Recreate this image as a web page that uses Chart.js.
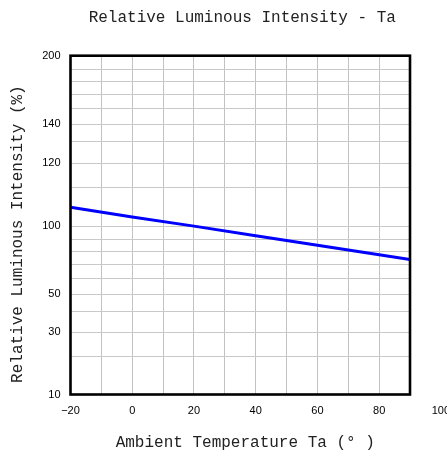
<!DOCTYPE html>
<html><head><meta charset="utf-8">
<script src="https://cdn.jsdelivr.net/npm/chart.js@4/dist/chart.umd.min.js"></script>
<style>html,body{margin:0;padding:0;background:#fff}#wrap{width:447px;height:458px;position:relative}</style>
</head><body><div id="wrap"><canvas id="c"></canvas></div>
<script>
// ---- data ----
const temperatures = [-20, 0, 20, 40, 60, 80, 90];
const intensity = [104.9, 102.4, 100.0, 92.5, 85.2, 77.7, 74.0];
const xGridValues = [-20, -10, 0, 10, 20, 30, 40, 50, 60, 70, 80, 90];
const xLabelValues = [-20, 0, 20, 40, 60, 80, 100];
const yGridValues = [10, 20, 30, 40, 50, 60, 70, 80, 90, 100, 110, 120, 130, 140, 152, 164, 176, 188, 200];
const yLabelValues = [10, 30, 50, 100, 120, 140, 200];
const chartTitle = 'Relative Luminous Intensity - Ta';
const xTitle = 'Ambient Temperature Ta (\u00b0 )';
const yTitle = 'Relative Luminous Intensity (%)';

// ---- axis geometry (relative height of each y grid line, bottom = 0, top = 1) ----
const yGridFractions = [0, .1110, .1831, .2460, .2962, .3426, .3839, .4211, .4587, .4970,
  .6102, .6822, .7460, .7983, .8447, .8860, .9232, .9598, 1];

function valueToFrac(v) {
  const g = yGridValues, f = yGridFractions;
  if (v <= g[0]) return f[0] + (v - g[0]) / (g[1] - g[0]) * (f[1] - f[0]);
  for (let i = 1; i < g.length; i++) {
    if (v <= g[i]) return f[i - 1] + (v - g[i - 1]) / (g[i] - g[i - 1]) * (f[i] - f[i - 1]);
  }
  const n = g.length - 1;
  return f[n] + (v - g[n]) / (g[n] - g[n - 1]) * (f[n] - f[n - 1]);
}
function fracToValue(d) {
  const g = yGridValues, f = yGridFractions;
  for (let i = 1; i < f.length; i++) {
    if (d <= f[i]) return g[i - 1] + (d - f[i - 1]) / (f[i] - f[i - 1]) * (g[i] - g[i - 1]);
  }
  return g[g.length - 1];
}

class SegmentScale extends Chart.LinearScale {
  static id = 'segment';
  static defaults = Chart.LinearScale.defaults;
  buildTicks() { return yGridValues.map(v => ({ value: v })); }
  getPixelForValue(v) { return this.getPixelForDecimal(valueToFrac(v)); }
  getValueForPixel(p) { return fracToValue(this.getDecimalForPixel(p)); }
}
Chart.register(SegmentScale);

const frame = {
  id: 'frame',
  afterDatasetsDraw(chart) {
    const { ctx, chartArea: a } = chart;
    ctx.save();
    ctx.strokeStyle = '#000';
    ctx.lineWidth = 2.6;
    ctx.strokeRect(a.left, a.top, a.right - a.left, a.bottom - a.top);
    ctx.restore();
  },
  afterDraw(chart) {
    const { ctx, chartArea: a } = chart;
    const cx = (a.left + a.right) / 2;
    ctx.save();
    ctx.fillStyle = '#222';
    ctx.font = '16px "Liberation Mono", monospace';
    ctx.textAlign = 'center';
    ctx.textBaseline = 'middle';
    ctx.fillText(chartTitle, cx + 2, a.top - 38);
    ctx.fillText(xTitle, cx + 5, a.bottom + 48);
    ctx.translate(18, (a.top + a.bottom) / 2 + 9);
    ctx.rotate(-Math.PI / 2);
    ctx.fillText(yTitle, 0, 0);
    ctx.restore();
  }
};

new Chart(document.getElementById('c'), {
  type: 'line',
  data: {
    datasets: [{
      data: temperatures.map((t, i) => ({ x: t, y: intensity[i] })),
      borderColor: '#0000ff',
      borderWidth: 3,
      pointRadius: 0,
      tension: 0,
      fill: false
    }]
  },
  options: {
    responsive: true,
    maintainAspectRatio: false,
    animation: false,
    layout: { padding: { left: 0, top: 55.7, right: 37, bottom: 0 } },
    plugins: { legend: { display: false }, title: { display: false }, tooltip: { enabled: false } },
    scales: {
      x: {
        type: 'linear',
        min: -20, max: 90,
        afterBuildTicks: s => { s.ticks = xGridValues.concat([100]).map(v => ({ value: v })); },
        afterFit: s => { s.height = 63.5; s.paddingLeft = 0; s.paddingRight = 0; },
        border: { display: false },
        grid: {
          drawTicks: false,
          lineWidth: 1,
          color: c => (c.tick && c.tick.value > 90) ? 'rgba(0,0,0,0)' : '#c2c2c2'
        },
        ticks: {
          autoSkip: false,
          maxRotation: 0,
          padding: 10,
          color: '#000',
          font: { family: '"Liberation Sans", Arial, sans-serif', size: 11 },
          callback: v => xLabelValues.includes(v) ? (v < 0 ? '\u2212' + Math.abs(v) : String(v)) : ''
        }
      },
      y: {
        type: 'segment',
        min: 10, max: 200,
        afterFit: s => { s.width = 70.5; },
        border: { display: false },
        grid: { drawTicks: false, lineWidth: 1, color: '#c8c8c8' },
        ticks: {
          autoSkip: false,
          padding: 10,
          color: '#000',
          font: { family: '"Liberation Sans", Arial, sans-serif', size: 11 },
          callback: v => yLabelValues.includes(v) ? String(v) : ''
        }
      }
    }
  },
  plugins: [frame]
});
</script>
</body></html>
